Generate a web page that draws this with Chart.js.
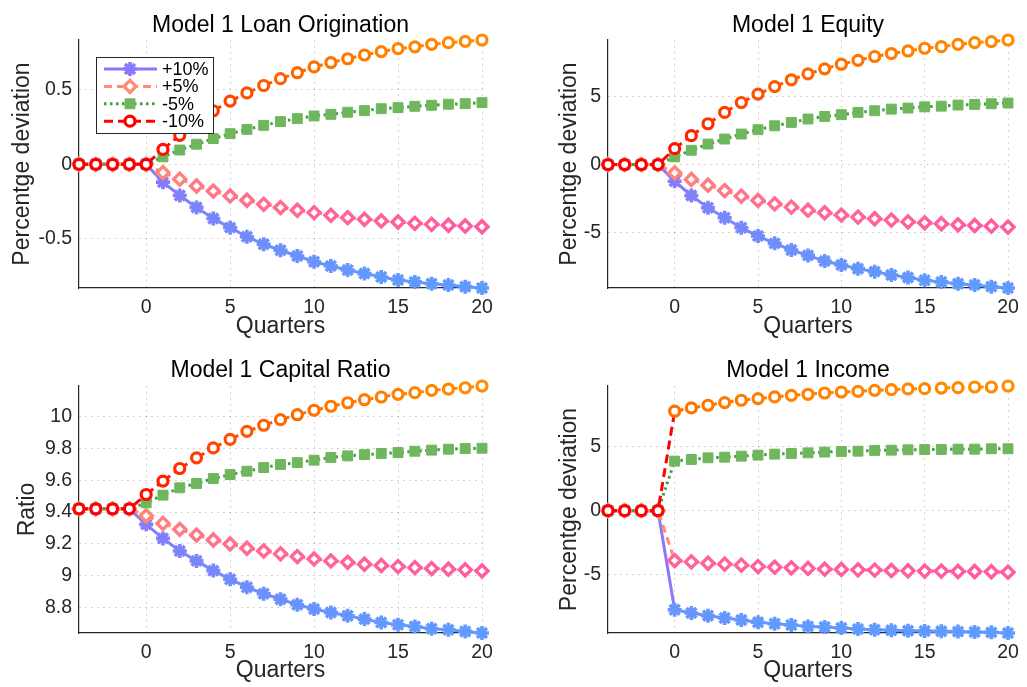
<!DOCTYPE html>
<html lang="en">
<head>
<meta charset="UTF-8">
<title>Model 1 responses</title>
<script src="https://cdn.jsdelivr.net/npm/chart.js"></script>
<style>
    body {
        margin: 0;
        background: #fff;
        width: 1027px;
        height: 687px;
        position: relative;
        overflow: hidden;
    }
    .panel { position: absolute; }
</style>
</head>
<body>

<div class="panel" style="left:0;top:0"><canvas id="loanChart" width="513" height="340"></canvas></div>
<div class="panel" style="left:513px;top:0"><canvas id="equityChart" width="514" height="340"></canvas></div>
<div class="panel" style="left:0;top:340px"><canvas id="ratioChart" width="513" height="347"></canvas></div>
<div class="panel" style="left:513px;top:340px"><canvas id="incomeChart" width="514" height="347"></canvas></div>

<script>
// quarters on the x axis
const quarters = [-4, -3, -2, -1, 0, 1, 2, 3, 4, 5, 6, 7, 8, 9, 10, 11, 12, 13, 14, 15, 16, 17, 18, 19, 20];
const seriesLabels = ['+10%', '+5%', '-5%', '-10%'];

// Loan origination (% deviation)
const loanP10 = [0, 0, 0, 0, 0, -0.12, -0.21, -0.29, -0.365, -0.426, -0.487, -0.538, -0.578, -0.617, -0.655, -0.684, -0.711, -0.735, -0.758, -0.778, -0.791, -0.803, -0.812, -0.823, -0.832];
const loanP5  = [0, 0, 0, 0, 0, -0.056, -0.10, -0.146, -0.18, -0.213, -0.242, -0.269, -0.291, -0.309, -0.325, -0.343, -0.359, -0.37, -0.381, -0.388, -0.397, -0.404, -0.41, -0.415, -0.42];
const loanM5  = [0, 0, 0, 0, 0, 0.05, 0.096, 0.135, 0.173, 0.206, 0.235, 0.262, 0.287, 0.307, 0.325, 0.336, 0.35, 0.361, 0.374, 0.381, 0.39, 0.397, 0.404, 0.408, 0.415];
const loanM10 = [0, 0, 0, 0, 0, 0.10, 0.195, 0.28, 0.36, 0.425, 0.48, 0.53, 0.576, 0.616, 0.655, 0.684, 0.71, 0.735, 0.758, 0.778, 0.79, 0.807, 0.818, 0.827, 0.836];

// Equity (% deviation)
const eqP10 = [0, 0, 0, 0, -1.23, -2.29, -3.19, -3.93, -4.67, -5.28, -5.82, -6.31, -6.71, -7.13, -7.42, -7.69, -7.91, -8.16, -8.35, -8.55, -8.67, -8.8, -8.89, -9.02, -9.12];
const eqP5  = [0, 0, 0, 0, -0.61, -1.1, -1.52, -1.92, -2.33, -2.65, -2.9, -3.14, -3.37, -3.56, -3.73, -3.88, -4.0, -4.1, -4.23, -4.3, -4.37, -4.45, -4.5, -4.55, -4.62];
const eqM5  = [0, 0, 0, 0, 0.57, 1.06, 1.52, 1.89, 2.26, 2.58, 2.87, 3.12, 3.37, 3.56, 3.69, 3.86, 3.98, 4.1, 4.18, 4.27, 4.32, 4.4, 4.45, 4.5, 4.55];
const eqM10 = [0, 0, 0, 0, 1.18, 2.14, 3.02, 3.86, 4.59, 5.21, 5.77, 6.27, 6.71, 7.08, 7.42, 7.71, 7.99, 8.21, 8.4, 8.6, 8.72, 8.89, 9.02, 9.09, 9.21];

// Capital ratio (level)
const crP10 = [9.42, 9.42, 9.42, 9.42, 9.323, 9.235, 9.156, 9.094, 9.033, 8.979, 8.929, 8.888, 8.854, 8.819, 8.792, 8.771, 8.75, 8.729, 8.708, 8.694, 8.683, 8.669, 8.662, 8.652, 8.642];
const crP5  = [9.42, 9.42, 9.42, 9.42, 9.377, 9.329, 9.292, 9.256, 9.225, 9.2, 9.173, 9.156, 9.138, 9.121, 9.106, 9.094, 9.085, 9.073, 9.065, 9.058, 9.052, 9.046, 9.042, 9.038, 9.031];
const crM5  = [9.42, 9.42, 9.42, 9.42, 9.458, 9.506, 9.552, 9.579, 9.61, 9.635, 9.656, 9.679, 9.698, 9.71, 9.725, 9.742, 9.752, 9.76, 9.767, 9.773, 9.781, 9.788, 9.794, 9.798, 9.8];
const crM10 = [9.42, 9.42, 9.42, 9.42, 9.51, 9.594, 9.673, 9.74, 9.802, 9.856, 9.906, 9.944, 9.979, 10.01, 10.038, 10.063, 10.085, 10.104, 10.121, 10.138, 10.148, 10.163, 10.171, 10.179, 10.19];

// Income (% deviation)
const inP10 = [0, 0, 0, 0, -7.78, -8.04, -8.25, -8.43, -8.59, -8.77, -8.88, -8.98, -9.09, -9.14, -9.22, -9.3, -9.35, -9.4, -9.43, -9.45, -9.48, -9.5, -9.53, -9.56, -9.61];
const inP5  = [0, 0, 0, 0, -3.92, -4.02, -4.13, -4.2, -4.28, -4.39, -4.44, -4.49, -4.54, -4.6, -4.62, -4.65, -4.67, -4.7, -4.73, -4.75, -4.75, -4.78, -4.78, -4.8, -4.83];
const inM5  = [0, 0, 0, 0, 3.89, 4.02, 4.15, 4.2, 4.28, 4.36, 4.44, 4.49, 4.54, 4.6, 4.65, 4.67, 4.73, 4.75, 4.78, 4.8, 4.8, 4.83, 4.83, 4.86, 4.86];
const inM10 = [0, 0, 0, 0, 7.81, 8.07, 8.28, 8.49, 8.67, 8.8, 8.93, 9.06, 9.14, 9.24, 9.32, 9.37, 9.45, 9.5, 9.56, 9.58, 9.63, 9.66, 9.71, 9.71, 9.79];

// tick values
const quarterTicks = [0, 5, 10, 15, 20];
const loanTicks = [-0.5, 0, 0.5];
const equityTicks = [-5, 0, 5];
const ratioTicks = [8.8, 9, 9.2, 9.4, 9.6, 9.8, 10];
const incomeTicks = [-5, 0, 5];

const FONT = '"Liberation Sans", Arial, Helvetica, sans-serif';
const TEXT = '#262626';

// look of each series (colour fades from "from" to "to" as the deviation grows)
const looks = [
    { from: [140, 118, 250], to: [95, 155, 255], dash: [], shape: 'star', r: 7, bw: 3.6, fill: 'none' },
    { from: [255, 140, 115], to: [255, 92, 160], dash: [8, 5], shape: 'rectRot', r: 6, bw: 3.4, fill: '#fff' },
    { from: [112, 182, 92], to: [112, 182, 92], line: [64, 158, 70], dash: [2.5, 3.5], shape: 'rect', r: 7, bw: 1, fill: 'same' },
    { from: [255, 0, 0], to: [255, 140, 0], dash: [9, 5], shape: 'circle', r: 5, bw: 3.2, fill: '#fff' }
];

function mix(a, b, t) {
    return 'rgb(' + a.map((v, i) => Math.round(v + (b[i] - v) * t)).join(',') + ')';
}

function shades(vals, from, to) {
    const base = vals[0];
    const span = Math.max(...vals.map(v => Math.abs(v - base))) || 1;
    return vals.map(v => mix(from, to, Math.abs(v - base) / span));
}

function makeDataset(vals, k) {
    const lk = looks[k];
    const ptCols = shades(vals, lk.from, lk.to);
    const lnCols = lk.line ? vals.map(() => mix(lk.line, lk.line, 0)) : ptCols;
    return {
        label: seriesLabels[k],
        data: quarters.map((q, i) => ({ x: q, y: vals[i] })),
        order: 3 - k,
        clip: false,
        borderWidth: 3,
        borderDash: lk.dash,
        borderColor: lnCols[0],
        segment: { borderColor: c => lnCols[c.p0DataIndex] },
        pointStyle: lk.shape,
        pointRadius: lk.r,
        pointBorderWidth: lk.bw,
        pointBorderColor: ptCols,
        pointBackgroundColor: lk.fill === 'same' ? ptCols : (lk.fill === 'none' ? 'rgba(0,0,0,0)' : lk.fill),
        tension: 0,
        fill: false,
        look: lk
    };
}

function drawMarker(ctx, shape, x, y, r, bw, stroke, fill) {
    ctx.save();
    ctx.lineWidth = bw;
    ctx.strokeStyle = stroke;
    ctx.fillStyle = fill;
    ctx.setLineDash([]);
    ctx.beginPath();
    if (shape === 'star') {
        for (let a = 0; a < 4; a++) {
            const ang = a * Math.PI / 4;
            ctx.moveTo(x - Math.cos(ang) * r, y - Math.sin(ang) * r);
            ctx.lineTo(x + Math.cos(ang) * r, y + Math.sin(ang) * r);
        }
        ctx.stroke();
    } else {
        if (shape === 'circle') {
            ctx.arc(x, y, r, 0, Math.PI * 2);
        } else if (shape === 'rectRot') {
            ctx.moveTo(x - r, y); ctx.lineTo(x, y - r); ctx.lineTo(x + r, y); ctx.lineTo(x, y + r); ctx.closePath();
        } else {
            const s = r * Math.SQRT1_2;
            ctx.rect(x - s, y - s, 2 * s, 2 * s);
        }
        if (fill !== 'none') ctx.fill();
        ctx.stroke();
    }
    ctx.restore();
}

// panel title and the boxed legend in the first panel
const decor = {
    id: 'decor',
    afterDraw(chart, args, opts) {
        const { ctx, chartArea } = chart;
        ctx.save();
        ctx.fillStyle = '#000';
        ctx.font = '23px ' + FONT;
        ctx.textAlign = 'center';
        ctx.textBaseline = 'alphabetic';
        ctx.fillText(opts.title, (chartArea.left + chartArea.right) / 2, chartArea.top - opts.titleGap);

        if (opts.legend) {
            const bx = chartArea.left + 17, by = chartArea.top + 17;
            ctx.fillStyle = '#fff';
            ctx.fillRect(bx, by, 117, 76);
            ctx.strokeStyle = '#262626';
            ctx.lineWidth = 1;
            ctx.strokeRect(bx + 0.5, by + 0.5, 117, 76);
            chart.data.datasets.forEach((ds, i) => {
                const lk = ds.look;
                const y = by + 12 + i * 17.4;
                const col = mix(lk.line || lk.from, lk.line || lk.from, 0);
                ctx.save();
                ctx.strokeStyle = col;
                ctx.lineWidth = 3;
                ctx.setLineDash(lk.dash);
                ctx.beginPath();
                ctx.moveTo(bx + 8, y);
                ctx.lineTo(bx + 61, y);
                ctx.stroke();
                ctx.restore();
                const mcol = mix(lk.from, lk.from, 0);
                drawMarker(ctx, lk.shape, bx + 34, y, lk.r, lk.bw, mcol,
                    lk.fill === 'same' ? mcol : lk.fill);
                ctx.fillStyle = '#000';
                ctx.font = '18px ' + FONT;
                ctx.textAlign = 'left';
                ctx.textBaseline = 'middle';
                ctx.fillText(ds.label, bx + 66, y + 1);
            });
        }
        ctx.restore();
    }
};

function makePanel(id, cfg) {
    const all = cfg.series.flat();
    new Chart(document.getElementById(id), {
        type: 'line',
        data: { datasets: cfg.series.map((vals, k) => makeDataset(vals, k)) },
        options: {
            responsive: false,
            animation: false,
            events: [],
            layout: { padding: { top: cfg.top, right: cfg.right, left: 0, bottom: 0 } },
            plugins: {
                legend: { display: false },
                tooltip: { enabled: false },
                decor: { title: cfg.title, titleGap: cfg.titleGap, legend: !!cfg.legend }
            },
            scales: {
                x: {
                    type: 'linear',
                    min: quarters[0],
                    max: quarters[quarters.length - 1],
                    afterBuildTicks: s => { s.ticks = quarterTicks.map(v => ({ value: v })); },
                    afterFit: s => { s.height = cfg.xHeight; },
                    ticks: { padding: 8, color: TEXT, font: { family: FONT, size: 19.5 }, maxRotation: 0 },
                    grid: { color: 'rgba(0,0,0,0.22)', lineWidth: 1, drawTicks: false },
                    border: { display: true, color: TEXT, width: 1.2, dash: [1.5, 4.5] },
                    title: { display: true, text: 'Quarters', color: TEXT, font: { family: FONT, size: 23 },
                             padding: { top: 0, bottom: cfg.xTitlePad } }
                },
                y: {
                    min: Math.min(...all),
                    max: Math.max(...all),
                    afterBuildTicks: s => { s.ticks = cfg.yTicks.map(v => ({ value: v })); },
                    afterFit: s => { s.width = cfg.yWidth; },
                    ticks: { padding: 7, color: TEXT, font: { family: FONT, size: 19.5 },
                             callback: v => String(+Number(v).toFixed(3)) },
                    grid: { color: 'rgba(0,0,0,0.22)', lineWidth: 1, drawTicks: false },
                    border: { display: true, color: TEXT, width: 1.2, dash: [1.5, 4.5] },
                    title: { display: true, text: cfg.yTitle, color: TEXT, font: { family: FONT, size: 23 },
                             padding: { top: cfg.yTitlePad, bottom: 0 } }
                }
            }
        },
        plugins: [decor]
    });
}

makePanel('loanChart', {
    title: 'Model 1 Loan Origination', yTitle: 'Percentge deviation',
    series: [loanP10, loanP5, loanM5, loanM10], yTicks: loanTicks,
    top: 40, right: 31, xHeight: 52, yWidth: 79, yTitlePad: 9, xTitlePad: 0, titleGap: 8.5, legend: true
});
makePanel('equityChart', {
    title: 'Model 1 Equity', yTitle: 'Percentge deviation',
    series: [eqP10, eqP5, eqM5, eqM10], yTicks: equityTicks,
    top: 40, right: 19, xHeight: 52, yWidth: 95, yTitlePad: 43, xTitlePad: 0, titleGap: 8.5
});
makePanel('ratioChart', {
    title: 'Model 1 Capital Ratio', yTitle: 'Ratio',
    series: [crP10, crP5, crM5, crM10], yTicks: ratioTicks,
    top: 46, right: 31, xHeight: 54, yWidth: 79, yTitlePad: 14, xTitlePad: 2.2, titleGap: 9.3
});
makePanel('incomeChart', {
    title: 'Model 1 Income', yTitle: 'Percentge deviation',
    series: [inP10, inP5, inM5, inM10], yTicks: incomeTicks,
    top: 46, right: 19, xHeight: 54, yWidth: 95, yTitlePad: 42.5, xTitlePad: 2.2, titleGap: 9.3
});
</script>
</body>
</html>
